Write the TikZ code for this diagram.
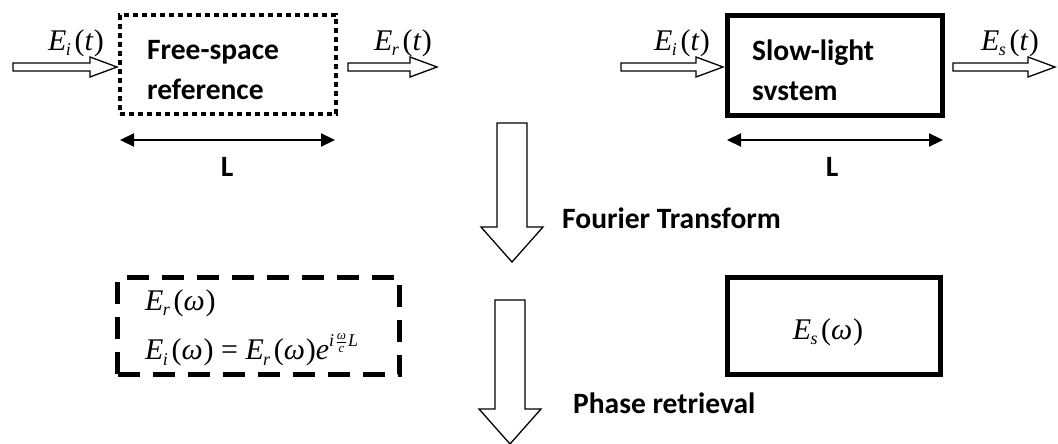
\documentclass[tikz,border=0pt]{standalone}
\usepackage{fontspec}
\setmainfont{Liberation Serif}
\newfontfamily\carl{Carlito}
\newfontfamily\tms{Liberation Serif}
\usetikzlibrary{arrows.meta,calc}
\newcommand\Ef[2]{{\tms\itshape E\kern-0.02em\raisebox{-0.38ex}{\fontsize{18}{18}\selectfont #1}\kern0.12em{\upshape(}#2\kern0.03em{\upshape)}}}
\newcommand\expo{{\tms\itshape e\raisebox{0.95ex}{\fontsize{18}{18}\selectfont i\kern0.08em$\frac{\hbox{\fontsize{13}{13}\tms\itshape\selectfont ω}}{\hbox{\fontsize{13}{13}\tms\itshape\selectfont c}}$\kern0.05em L}}}
\tikzset{
 lbl/.style={font=\carl\bfseries\fontsize{29.5}{40}\selectfont, inner sep=0pt},
 mth/.style={font=\fontsize{30}{36}\selectfont, inner sep=0pt},
 blk/.style={draw=black, line width=1.3pt, fill=white, line join=miter},
 Larr/.style={line width=2.2pt, {Triangle[length=14pt,width=13pt]}-{Triangle[length=14pt,width=13pt]}},
 pics/harrow/.style={code={\draw[blk] (0,-4) -- ({#1-27},-4) -- ({#1-27},-10) -- (#1,0) -- ({#1-27},10) -- ({#1-27},4) -- (0,4) -- cycle;}},
 pics/varrow/.style={code={\draw[blk] (-15,0) -- (-15,{#1-35}) -- (-31,{#1-35}) -- (0,#1) -- (31,{#1-35}) -- (15,{#1-35}) -- (15,0) -- cycle;}},
 boxnode/.style={draw=black, inner sep=0pt, line cap=butt},
}
\begin{document}
\begin{tikzpicture}[x=1pt,y=-1pt]
\useasboundingbox[fill=white] (0,0) rectangle (1058,444);
% boxes
\node[boxnode, line width=4.6pt, dash pattern=on 4.6pt off 4.4pt, minimum width=216pt, minimum height=99pt] (fs) at (228,64.5) {};
\node[boxnode, line width=5pt, minimum width=215pt, minimum height=100pt] (sl) at (835,65.5) {};
\node[boxnode, line width=5pt, dash pattern=on 22pt off 13pt, minimum width=282pt, minimum height=97pt] (fw) at (258.5,326) {};
\node[boxnode, line width=5pt, minimum width=213pt, minimum height=97pt] (sw) at (834,326) {};
% box labels
\node[lbl, align=left, anchor=west] (fst) at (147,70) {Free-space\\reference};
\node[lbl, align=left, anchor=west] (slt) at (752,70) {Slow-light\\svstem};
% hollow arrows
\pic at (13,67) {harrow=104};
\pic at (348,67) {harrow=89};
\pic at (621,67) {harrow=102};
\pic at (953,67) {harrow=102};
% math labels
\node[mth] (ei1) at (76,43) {\Ef{i}{t}};
\node[mth] (er1) at (403,43) {\Ef{r}{t}};
\node[mth] (ei2) at (682,43) {\Ef{i}{t}};
\node[mth] (es1) at (1010,43) {\Ef{s}{t}};
% length arrows
\coordinate (la) at (120,140);
\coordinate (lb) at (335,140);
\coordinate (lc) at (727,140);
\coordinate (ld) at (943,140);
\draw[Larr] (la) -- (lb);
\draw[Larr] (lc) -- (ld);
\node[lbl] (L1) at (227,167) {L};
\node[lbl] (L2) at (832,167) {L};
% down arrows
\pic at (512,123) {varrow=139};
\pic at (510,300) {varrow=144};
\node[lbl, anchor=west] (ft) at (562,218) {Fourier Transform};
\node[lbl, anchor=west] (pr) at (573,403) {Phase retrieval};
% frequency domain
\node[mth, anchor=west] (erw) at (145,303) {\Ef{r}{ω}};
\node[mth, anchor=west] (eiw) at (145,350) {\Ef{i}{ω}\kern0.25em=\kern0.25em\Ef{r}{ω}\expo};
\node[mth] (esw) at (828,332) {\Ef{s}{ω}};
\end{tikzpicture}
\end{document}
